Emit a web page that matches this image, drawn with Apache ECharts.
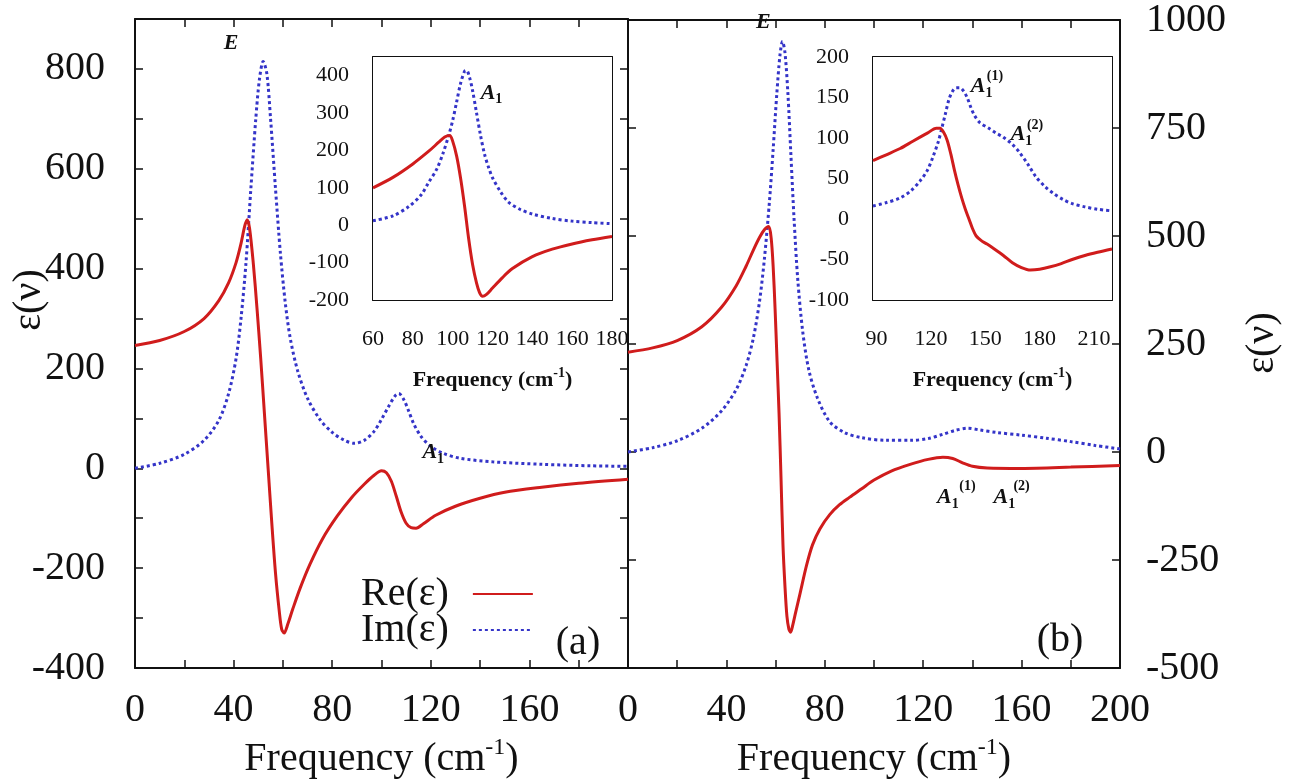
<!DOCTYPE html>
<html>
<head>
<meta charset="utf-8">
<script src="https://cdn.jsdelivr.net/npm/echarts@6/dist/echarts.min.js"></script>
<style>html,body{margin:0;background:#fff}#chart{width:1291px;height:784px}</style>
</head>
<body>
<div id="chart"></div>
<script>
var serif = '"Liberation Serif", "Times New Roman", serif';
var ink = '#111';
var reColor = '#d01c1c';
var imColor = '#3434c8';

// panel (a), main
var aReFreq = [0,10,20,28,34,38,41,43,44.5,45.5,46.5,48,49.5,51,52.5,54,55.5,57,58.5,59.5,60.5,62,64,67,71,76,82,88,93,97,100,102,104,106,108,110,112,114,117,122,130,140,150,165,180,200];
var aRe = [246,256,274,300,336,372,412,450,485,498,480,410,320,220,110,0,-110,-210,-285,-322,-330,-312,-282,-240,-192,-142,-96,-58,-32,-14,-5,-9,-26,-56,-88,-110,-119,-120,-111,-94,-76,-60,-48,-38,-30,-22];
var aImFreq = [0,10,20,28,34,38,41,43,45,47,49,50.5,52,53.5,55,57,59,61,63,66,70,75,80,85,89,93,97,100,103,105.5,107,109,111,113,116,120,125,132,145,165,185,200];
var aIm = [0,10,28,56,96,150,220,300,410,560,700,780,815,790,700,560,430,330,260,195,140,98,72,56,50,56,74,98,125,145,150,138,115,90,64,44,30,20,13,8,5,4];

// panel (a), inset
var aInsReFreq = [60,70,80,88,93,96,98.5,100,102,104,106,108,110,112,113.5,115,117,120,125,130,140,150,160,170,180];
var aInsRe = [100,128,164,198,222,236,240,225,185,125,50,-35,-105,-155,-180,-190,-185,-168,-140,-116,-84,-64,-50,-39,-30];
var aInsImFreq = [60,70,78,84,88,92,95,98,100,102,104,106,107,108.5,110,112,114,116,118,120,124,128,134,140,150,160,170,180];
var aInsIm = [12,25,50,80,115,150,190,240,280,330,380,412,414,395,360,300,240,190,155,127,90,62,42,30,18,11,7,4];

// panel (b), main
var bReFreq = [0,10,20,30,38,44,48,51,53.5,55.5,57.2,58.2,59,59.8,60.6,61.4,62.2,63,63.8,64.6,65.4,66.1,67,68.2,70,72.6,75,78,82,86,90,95,100,107,115,122,128,132,136,140,146,160,180,200];
var bRe = [231,241,258,290,335,385,430,468,497,515,522,495,430,330,210,90,-60,-215,-310,-380,-410,-417,-400,-370,-326,-262,-215,-178,-145,-122,-105,-85,-65,-44,-28,-17,-12,-15,-25,-33,-37,-38,-35,-31];
var bImFreq = [0,10,20,30,38,44,48,51,53.5,55.5,57.5,59,60.5,61.8,62.8,63.8,65,66.2,67.5,69,71,73.5,77,82,88,95,105,115,122,128,133,138,143,150,160,170,180,190,200];
var bIm = [0,10,26,55,95,145,200,265,350,450,580,700,830,920,950,925,830,690,540,400,280,190,125,70,45,33,27,27,31,41,50,55,51,45,39,32,24,15,7];

// panel (b), inset
var bInsReFreq = [88,95,103,110,118,123,125,127,129,131,133,135,137,139,141,143,145,148,151,155,160,165,170,175,180,186,192,198,205,212,220];
var bInsRe = [72,79,87,96,106,112,112,107,97,80,60,42,26,12,0,-12,-21,-27,-31,-37,-45,-54,-60,-63,-62,-59,-55,-50,-45,-41,-37];
var bInsImFreq = [88,95,103,109,114,118,121,124,126,128,130,132,134,136,138,140,142,144,147,152,156,160,165,169,174,178,183,188,193,198,205,212,220];
var bInsIm = [16,20,26,35,47,60,76,95,112,130,148,158,162,162,158,150,138,128,119,112,106,101,92,82,66,52,40,31,24,19,15,12,10];

// tick labels
var aXLabels = [0,40,80,120,160];
var bXLabels = [0,40,80,120,160,200];
var aYLabels = [-400,-200,0,200,400,600,800];
var bYLabels = [-500,-250,0,250,500,750,1000];
var aInsXLabels = [60,80,100,120,140,160,180];
var aInsYLabels = [-200,-100,0,100,200,300,400];
var bInsXLabels = [90,120,150,180,210];
var bInsXTicks = [90,105,120,135,150,165,180,195,210];
var bInsYLabels = [-100,-50,0,50,100,150,200];

function pairs(xs, ys) {
    return xs.map(function (x, i) { return [x, ys[i]]; });
}
function only(list) {
    return function (v) { return list.indexOf(v) >= 0 ? String(v) : ''; };
}

var chart = echarts.init(document.getElementById('chart'));

var xAxes = [], yAxes = [];
var frameLine = {show: true, onZero: false, lineStyle: {color: ink, width: 2}};
function ticks(len, extra) {
    return Object.assign({show: true, inside: true, length: len, lineStyle: {color: ink, width: 1.5}}, extra || {});
}
//one boxed frame: labelled axes plus mirrored ones
function addFrame(g, xo, yo, ySide) {
    var xi = xAxes.length, yi = yAxes.length;
    var base = {gridIndex: g, type: 'value', axisLine: frameLine, splitLine: {show: false}};
    xAxes.push(Object.assign({}, base, xo, {position: 'bottom'}));
    xAxes.push(Object.assign({}, base, xo, {position: 'top', name: '', axisLabel: {show: false}}));
    var ySecond = ySide === 'left' ? 'right' : 'left';
    yAxes.push(Object.assign({}, base, yo, {position: ySide}));
    yAxes.push(Object.assign({}, base, yo, {position: ySecond, name: '', axisLabel: {show: false}}));
    return {x: xi, y: yi};
}

var mainLabel = {fontFamily: serif, fontSize: 40, color: ink};
var insLabel = {fontFamily: serif, fontSize: 22, color: ink};
var mainName = {fontFamily: serif, fontSize: 40, color: ink,
    rich: {sup: {fontFamily: serif, fontSize: 24, color: ink, padding: [0, 0, 22, 0]}}};
var insName = {fontFamily: serif, fontSize: 22, fontWeight: 'bold', color: ink,
    rich: {sup: {fontFamily: serif, fontSize: 14, fontWeight: 'bold', color: ink, padding: [0, 0, 14, 0]}}};

var fa = addFrame(0,
    {min: 0, max: 200, interval: 20, axisTick: ticks(8),
     axisLabel: Object.assign({formatter: only(aXLabels), margin: 22}, mainLabel),
     name: 'Frequency (cm{sup|-1})', nameLocation: 'middle', nameGap: 68, nameTextStyle: mainName},
    {min: -400, max: 900, interval: 100, axisTick: ticks(8),
     axisLabel: Object.assign({formatter: only(aYLabels), margin: 30}, mainLabel)},
    'left');
var fb = addFrame(1,
    {min: 0, max: 200, interval: 20, axisTick: ticks(8),
     axisLabel: Object.assign({formatter: only(bXLabels), margin: 22}, mainLabel),
     name: 'Frequency (cm{sup|-1})', nameLocation: 'middle', nameGap: 68, nameTextStyle: mainName},
    {min: -500, max: 1000, interval: 250, axisTick: ticks(8),
     axisLabel: Object.assign({formatter: only(bYLabels), margin: 26}, mainLabel)},
    'right');
var fai = addFrame(2,
    {min: 60, max: 180, interval: 20, axisTick: ticks(6),
     axisLabel: Object.assign({formatter: only(aInsXLabels), margin: 28}, insLabel),
     name: 'Frequency (cm{sup|-1})', nameLocation: 'middle', nameGap: 66, nameTextStyle: insName},
    {min: -200, max: 450, interval: 100, axisTick: ticks(6),
     axisLabel: Object.assign({formatter: only(aInsYLabels), margin: 24}, insLabel)},
    'left');
var fbi = addFrame(3,
    {min: 88, max: 220, axisTick: ticks(6, {customValues: bInsXTicks}),
     axisLabel: Object.assign({customValues: bInsXLabels, formatter: function (v) { return String(v); }, margin: 28}, insLabel),
     name: 'Frequency (cm{sup|-1})', nameLocation: 'middle', nameGap: 66, nameTextStyle: insName},
    {min: -100, max: 200, interval: 50, axisTick: ticks(6),
     axisLabel: Object.assign({formatter: only(bInsYLabels), margin: 24}, insLabel)},
    'left');

var annRich = {
    i: {fontFamily: serif, fontStyle: 'italic', fontWeight: 'bold', fontSize: 22, color: ink},
    s: {fontFamily: serif, fontWeight: 'bold', fontSize: 14, color: ink, padding: [14, 0, 0, 0]},
    p: {fontFamily: serif, fontWeight: 'bold', fontSize: 14, color: ink}
};
function notes(list) {
    return {
        symbol: 'circle', symbolSize: 1, silent: true, animation: false,
        itemStyle: {color: 'rgba(0,0,0,0)'},
        label: {show: true, position: 'inside', rich: annRich},
        data: list.map(function (n) {
            return {coord: [n[0], n[1]], label: {formatter: n[2]}};
        })
    };
}

function lineSeries(name, xs, ys, color, dotted, f, z, mark) {
    var s = {
        name: name, type: 'line', xAxisIndex: f.x, yAxisIndex: f.y,
        data: pairs(xs, ys), symbol: 'none', smooth: 0.3, z: z,
        animation: false, clip: true,
        itemStyle: {color: color},
        lineStyle: {color: color, width: 3, type: dotted ? [3, 3] : 'solid'}
    };
    if (mark) s.markPoint = mark;
    return s;
}

var option = {
    backgroundColor: '#fff',
    animation: false,
    grid: [
        {left: 135, right: 663, top: 19, bottom: 116},
        {left: 628, right: 171, top: 19, bottom: 116},
        {left: 373, right: 679, top: 57, bottom: 484, show: true, backgroundColor: '#fff', borderWidth: 0, z: 5},
        {left: 873, right: 179, top: 57, bottom: 484, show: true, backgroundColor: '#fff', borderWidth: 0, z: 5}
    ],
    xAxis: xAxes,
    yAxis: yAxes,
    legend: {
        data: ['Re(ε)', 'Im(ε)'], orient: 'vertical', left: 356, top: 569,
        align: 'right', itemWidth: 60, itemHeight: 14, itemGap: -4, selectedMode: false,
        itemStyle: {opacity: 0},
        lineStyle: {opacity: 1},
        textStyle: {fontFamily: serif, fontSize: 40, color: ink, lineHeight: 37, padding: [0, 19, 0, 0]}
    },
    series: [
        lineSeries('Im(ε)', aImFreq, aIm, imColor, true, fa, 2),
        lineSeries('Re(ε)', aReFreq, aRe, reColor, false, fa, 3,
            notes([[39, 852, '{i|E}'], [121, 32, '{i|A}{s|1}']])),
        lineSeries('Im b', bImFreq, bIm, imColor, true, fb, 2),
        lineSeries('Re b', bReFreq, bRe, reColor, false, fb, 3,
            notes([[55, 995, '{i|E}'], [130, -104, '{i|A}{s|1}'], [138, -79, '{p|(1)}'],
                   [153, -104, '{i|A}{s|1}'], [160, -79, '{p|(2)}']])),
        lineSeries('Im ai', aInsImFreq, aInsIm, imColor, true, fai, 6),
        lineSeries('Re ai', aInsReFreq, aInsRe, reColor, false, fai, 7,
            notes([[119.5, 354, '{i|A}{s|1}']])),
        lineSeries('Im bi', bInsImFreq, bInsIm, imColor, true, fbi, 6),
        lineSeries('Re bi', bInsReFreq, bInsRe, reColor, false, fbi, 7,
            notes([[148, 164, '{i|A}{s|1}'], [155.4, 176, '{p|(1)}'],
                   [170, 104, '{i|A}{s|1}'], [177.5, 116, '{p|(2)}']]))
    ],
    graphic: [
        {type: 'text', x: 578, y: 643, style: {text: '(a)', fontFamily: serif, fontSize: 40, fill: ink, align: 'center', verticalAlign: 'middle'}},
        {type: 'text', x: 1060, y: 640, style: {text: '(b)', fontFamily: serif, fontSize: 40, fill: ink, align: 'center', verticalAlign: 'middle'}},
        {type: 'text', x: 29, y: 300, rotation: Math.PI / 2, style: {text: 'ε(ν)', fontFamily: serif, fontSize: 40, fill: ink, align: 'center', verticalAlign: 'middle'}},
        {type: 'text', x: 1262, y: 343, rotation: Math.PI / 2, style: {text: 'ε(ν)', fontFamily: serif, fontSize: 40, fill: ink, align: 'center', verticalAlign: 'middle'}}
    ]
};
option && chart.setOption(option);
</script>
</body>
</html>
